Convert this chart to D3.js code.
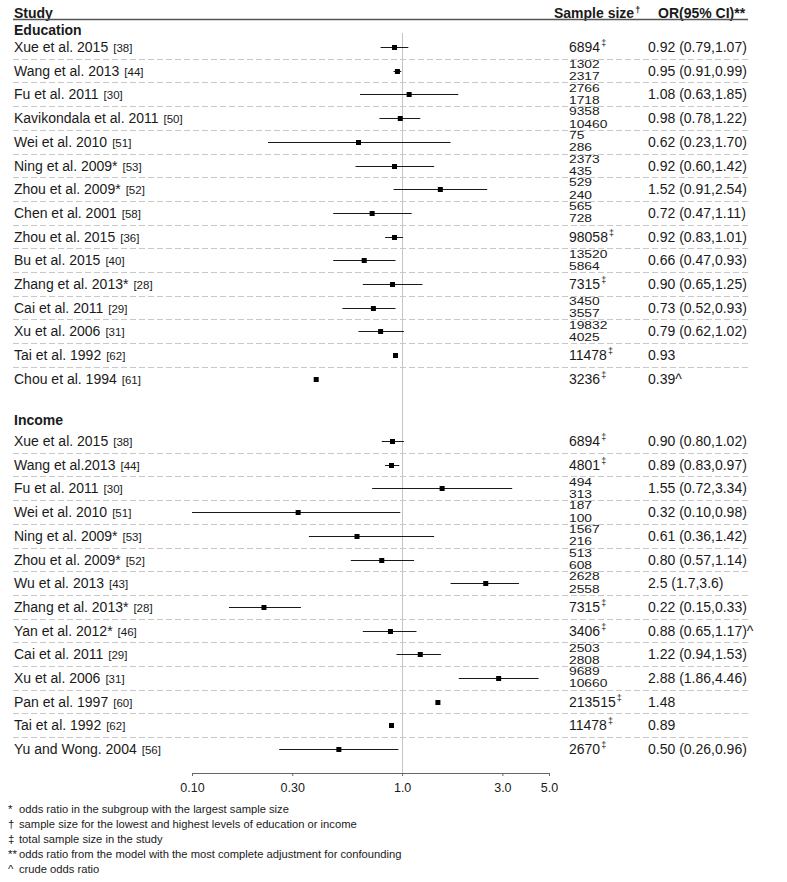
<!DOCTYPE html>
<html><head><meta charset="utf-8">
<script src="https://cdn.jsdelivr.net/npm/d3@7"></script>
<style>
body{margin:0;background:#fff;}
svg text{font-family:"Liberation Sans",Arial,Helvetica,sans-serif;fill:#1a1a1a;}
</style></head><body>
<svg id="c" width="787" height="882"></svg>
<script>
// ---------- data ----------
const eduStudies = ["Xue et al. 2015","Wang et al. 2013","Fu et al. 2011","Kavikondala et al. 2011","Wei et al. 2010","Ning et al. 2009*","Zhou et al. 2009*","Chen et al. 2001","Zhou et al. 2015","Bu et al. 2015","Zhang et al. 2013*","Cai et al. 2011","Xu et al. 2006","Tai et al. 1992","Chou et al. 1994"];
const eduRefs = ["[38]","[44]","[30]","[50]","[51]","[53]","[52]","[58]","[36]","[40]","[28]","[29]","[31]","[62]","[61]"];
const eduSampleTop = ["6894","1302","2766","9358","75","2373","529","565","98058","13520","7315","3450","19832","11478","3236"];
const eduSampleBottom = ["","2317","1718","10460","286","435","240","728","","5864","","3557","4025","",""];
const eduOR = [0.92,0.95,1.08,0.98,0.62,0.92,1.52,0.72,0.92,0.66,0.90,0.73,0.79,0.93,0.39];
const eduLow = [0.79,0.91,0.63,0.78,0.23,0.60,0.91,0.47,0.83,0.47,0.65,0.52,0.62,null,null];
const eduHigh = [1.07,0.99,1.85,1.22,1.70,1.42,2.54,1.11,1.01,0.93,1.25,0.93,1.02,null,null];
const eduText = ["0.92 (0.79,1.07)","0.95 (0.91,0.99)","1.08 (0.63,1.85)","0.98 (0.78,1.22)","0.62 (0.23,1.70)","0.92 (0.60,1.42)","1.52 (0.91,2.54)","0.72 (0.47,1.11)","0.92 (0.83,1.01)","0.66 (0.47,0.93)","0.90 (0.65,1.25)","0.73 (0.52,0.93)","0.79 (0.62,1.02)","0.93","0.39^"];

const incStudies = ["Xue et al. 2015","Wang et al.2013","Fu et al. 2011","Wei et al. 2010","Ning et al. 2009*","Zhou et al. 2009*","Wu et al. 2013","Zhang et al. 2013*","Yan et al. 2012*","Cai et al. 2011","Xu et al. 2006","Pan et al. 1997","Tai et al. 1992","Yu and Wong. 2004"];
const incRefs = ["[38]","[44]","[30]","[51]","[53]","[52]","[43]","[28]","[46]","[29]","[31]","[60]","[62]","[56]"];
const incSampleTop = ["6894","4801","494","187","1567","513","2628","7315","3406","2503","9689","213515","11478","2670"];
const incSampleBottom = ["","","313","100","216","608","2558","","","2808","10660","","",""];
const incOR = [0.90,0.89,1.55,0.32,0.61,0.80,2.5,0.22,0.88,1.22,2.88,1.48,0.89,0.50];
const incLow = [0.80,0.83,0.72,0.10,0.36,0.57,1.7,0.15,0.65,0.94,1.86,null,null,0.26];
const incHigh = [1.02,0.97,3.34,0.98,1.42,1.14,3.6,0.33,1.17,1.53,4.46,null,null,0.96];
const incText = ["0.90 (0.80,1.02)","0.89 (0.83,0.97)","1.55 (0.72,3.34)","0.32 (0.10,0.98)","0.61 (0.36,1.42)","0.80 (0.57,1.14)","2.5 (1.7,3.6)","0.22 (0.15,0.33)","0.88 (0.65,1.17)^","1.22 (0.94,1.53)","2.88 (1.86,4.46)","1.48","0.89","0.50 (0.26,0.96)"];

const groupNames = ["Education","Income"];
const tickValues = [0.1,0.3,1,3,5];
const tickLabels = ["0.10","0.30","1.0","3.0","5.0"];
const footSymbols = ["*","\u2020","\u2021","**","^"];
const footTexts = ["odds ratio in the subgroup with the largest sample size","sample size for the lowest and highest levels of education or income","total sample size in the study","odds ratio from the model with the most complete adjustment for confounding","crude odds ratio"];

// ---------- layout ----------
const svg = d3.select("#c");
const x = d3.scaleLog().domain([0.1,5]).range([192,549]);
const left = 13, right = 748, colN = 569, colOR = 648;
const rowStep = 23.7;
const axisY = 773;

function mkRows(studies, refs, top, bottom, or, lo, hi, txt){
  return studies.map((s,i)=>({s, ref:refs[i], top:top[i], bottom:bottom[i], or:or[i], lo:lo[i], hi:hi[i], txt:txt[i], i}));
}
const groups = [
  {name:groupNames[0], headY:35, y:d3.scaleLinear().domain([0,1]).range([47,47+rowStep]),
   rows:mkRows(eduStudies,eduRefs,eduSampleTop,eduSampleBottom,eduOR,eduLow,eduHigh,eduText)},
  {name:groupNames[1], headY:425, y:d3.scaleLinear().domain([0,1]).range([441,441+rowStep]),
   rows:mkRows(incStudies,incRefs,incSampleTop,incSampleBottom,incOR,incLow,incHigh,incText)}
];

// header
const hdr = svg.append("g");
hdr.append("text").attr("x",left+1).attr("y",17.5).attr("font-size",14).attr("font-weight","bold").text("Study");
const ss = hdr.append("text").attr("x",554).attr("y",17.5).attr("font-size",14).attr("font-weight","bold").text("Sample size");
ss.append("tspan").attr("font-size",9).attr("dy",-5).attr("dx",1).text("\u2020");
hdr.append("text").attr("x",658).attr("y",17.5).attr("font-size",14).attr("font-weight","bold").text("OR(95% CI)**");
hdr.append("line").attr("x1",left).attr("x2",right).attr("y1",19.5).attr("y2",19.5).attr("stroke","#555").attr("stroke-width",1.5);

// reference line at OR = 1
svg.append("line").attr("x1",Math.round(x(1))+0.5).attr("x2",Math.round(x(1))+0.5).attr("y1",33).attr("y2",axisY)
  .attr("stroke","#c4c4c4").attr("stroke-width",1);

groups.forEach(g=>{
  const G = svg.append("g");
  G.append("text").attr("x",left+1).attr("y",g.headY).attr("font-size",14).attr("font-weight","bold").text(g.name);
  const n = g.rows.length;
  // dashed separators
  G.selectAll("line.sep").data(g.rows.slice(0,n-1)).join("line")
    .attr("x1",left).attr("x2",right)
    .attr("y1",d=>Math.round(g.y(d.i)+11.7)+0.5).attr("y2",d=>Math.round(g.y(d.i)+11.7)+0.5)
    .attr("stroke","#c8c8c8").attr("stroke-dasharray","6,3").attr("stroke-width",1);
  const R = G.selectAll("g.row").data(g.rows).join("g");
  // study label
  const lab = R.append("text").attr("x",left+1).attr("y",d=>g.y(d.i)+5).attr("font-size",14).text(d=>d.s);
  lab.append("tspan").attr("dx",5).attr("font-size",11.5).text(d=>d.ref);
  // CI
  R.filter(d=>d.lo!=null).append("line")
    .attr("x1",d=>x(d.lo)).attr("x2",d=>x(d.hi))
    .attr("y1",d=>Math.round(g.y(d.i))+0.5).attr("y2",d=>Math.round(g.y(d.i))+0.5)
    .attr("stroke","#1a1a1a").attr("stroke-width",1);
  // point
  R.append("rect").attr("x",d=>x(d.or)-2.5).attr("y",d=>Math.round(g.y(d.i))-2).attr("width",5).attr("height",5).attr("fill","#000");
  // sample size
  R.each(function(d){
    const sel = d3.select(this);
    const cy = g.y(d.i);
    if(d.bottom===""){
      const t = sel.append("text").attr("x",colN).attr("y",cy+5).attr("font-size",14).text(d.top);
      t.append("tspan").attr("font-size",9).attr("dy",-6).attr("dx",1).text("\u2021");
    } else {
      [[d.top,-6.4],[d.bottom,5.8]].forEach(([v,off])=>{
        sel.append("text").attr("transform",`translate(${colN},${cy+off}) scale(1.38,1)`)
          .attr("y",3.6).attr("font-size",10).text(v);
      });
    }
  });
  // OR text
  R.append("text").attr("x",colOR).attr("y",d=>g.y(d.i)+5).attr("font-size",14).text(d=>d.txt);
});

// axis
const axis = d3.axisBottom(x).tickValues(tickValues).tickFormat((d,i)=>tickLabels[i]).tickSize(3).tickSizeOuter(0).tickPadding(7);
const ax = svg.append("g").attr("transform",`translate(0,${axisY})`).call(axis);
ax.select(".domain").attr("stroke","#666");
ax.selectAll(".tick line").attr("stroke","#666");
ax.selectAll(".tick text").attr("font-size",12.5).attr("font-family","Liberation Sans, Arial, sans-serif").attr("fill","#222");

// footnotes
const F = svg.append("g");
footSymbols.forEach((s,i)=>{
  F.append("text").attr("x",8).attr("y",812.5+i*15).attr("font-size",11.5).text(s);
  F.append("text").attr("x",19).attr("y",812.5+i*15).attr("font-size",11.2).text(footTexts[i]);
});
</script>
</body></html>
